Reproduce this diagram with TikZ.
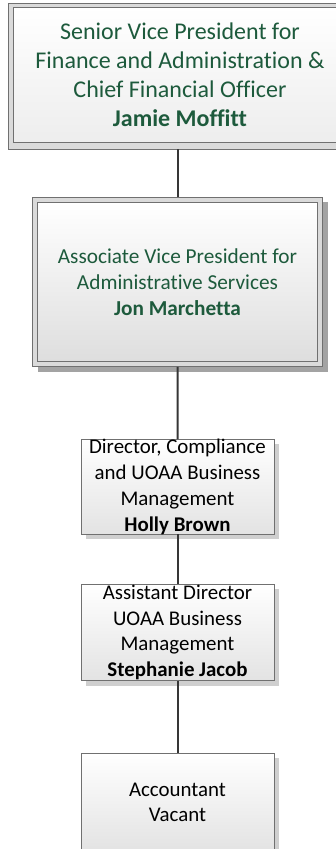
\documentclass[tikz,border=0pt]{standalone}
\usepackage{fontspec}
\setmainfont{Carlito}[Ligatures=NoCommon]
\definecolor{grn}{HTML}{1D5A3C}
\definecolor{bordergray}{HTML}{707070}
\definecolor{darkshadow}{HTML}{A3A3A3}
\definecolor{lightshadow}{HTML}{CFCFCF}
\definecolor{ringgray}{HTML}{DADADA}
\definecolor{linegray}{HTML}{363636}
\begin{document}
\begin{tikzpicture}[x=1pt,y=-1pt,
  every node/.style={inner sep=0pt, outer sep=0pt},
  ring/.style={rectangle, draw=bordergray, line width=1pt, fill=ringgray},
  inbox/.style={rectangle, draw=bordergray, line width=1pt, top color=white, bottom color=black!13, align=center},
  plainbox/.style={rectangle, draw=bordergray, line width=0.8pt, top color=white, bottom color=black!11, align=center},
  shade1/.style={rectangle, fill=darkshadow},
  shade2/.style={rectangle, fill=lightshadow},
  link/.style={draw=linegray, line width=2pt}
]
\useasboundingbox (0,0) rectangle (336,849);
\clip (0,0) rectangle (336,849);

% top box (double border, extends beyond right edge)
\node[ring, minimum width=344pt, minimum height=145.7pt] (topO) at (180,76.2) {};
\node[inbox, minimum width=334pt, minimum height=135pt, top color=white, bottom color=black!7,
      text=grn, font=\fontsize{24}{28.8}\selectfont] (top) at (180,74.6)
  {Senior Vice President for\\Finance and Administration \&\\Chief Financial Officer\\\textbf{Jamie Moffitt}};

% AVP box
\node[shade1, minimum width=290pt, minimum height=169.7pt] (avpS) at (182.7,286.9) {};
\node[ring, minimum width=290pt, minimum height=169.7pt] (avpO) at (177.7,281.9) {};
\node[inbox, minimum width=280.4pt, minimum height=159.7pt,
      text=grn, font=\fontsize{21.3}{25.8}\selectfont] (avp) at (177.5,281.9)
  {Associate Vice President for\\Administrative Services\\\textbf{Jon Marchetta}};

% Director box
\node[shade2, minimum width=193pt, minimum height=94.7pt] (dirS) at (182.5,491.7) {};
\node[plainbox, minimum width=193pt, minimum height=94.7pt,
      font=\fontsize{20.9}{25.8}\selectfont] (dir) at (177.5,486.7)
  {Director, Compliance\\and UOAA Business\\Management\\\textbf{Holly Brown}};

% Assistant Director box
\node[shade2, minimum width=193pt, minimum height=96.7pt] (asdS) at (182.5,637.3) {};
\node[plainbox, minimum width=193pt, minimum height=96.7pt,
      font=\fontsize{20.9}{25.6}\selectfont] (asd) at (177.5,632.3)
  {Assistant Director\\UOAA Business\\Management\\\textbf{Stephanie Jacob}};

% Accountant box
\node[shade2, minimum width=193pt, minimum height=98pt] (accS) at (182.5,807.3) {};
\node[plainbox, minimum width=193pt, minimum height=98pt,
      font=\fontsize{20.9}{25.6}\selectfont] (acc) at (177.5,802.3)
  {Accountant\\Vacant};

% connectors
\draw[link] (avpO.north) -- (avpO.north |- topO.south);
\draw[link] (avpO.south) -- (dir.north);
\draw[link] (dir.south) -- (asd.north);
\draw[link] (asd.south) -- (acc.north);
\end{tikzpicture}
\end{document}
